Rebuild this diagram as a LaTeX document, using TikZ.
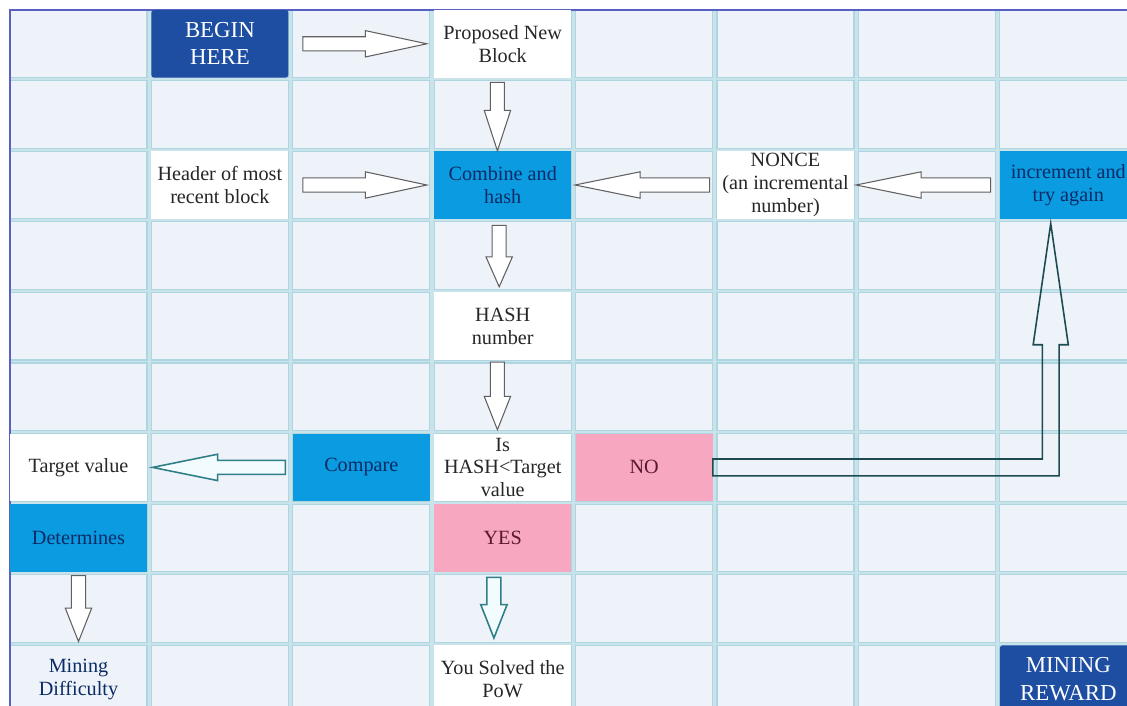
\documentclass[tikz,border=0pt]{standalone}
\usepackage{fontspec}
\setmainfont{Liberation Serif}
\newfontfamily\timesfont{Liberation Serif}
\usetikzlibrary{calc}

\definecolor{gridbg}{HTML}{C9E3EA}
\definecolor{cellfill}{HTML}{EEF2F9}
\definecolor{cellline}{HTML}{AFD6E0}
\definecolor{stepblue}{HTML}{0A9BE0}
\definecolor{darkblue}{HTML}{1E4EA2}
\definecolor{navy}{HTML}{0B2B66}
\definecolor{pinkcell}{HTML}{F8A7C0}
\definecolor{maroon}{HTML}{5A1830}
\definecolor{framecol}{HTML}{5960C4}
\definecolor{tealline}{HTML}{2F7F87}

\tikzset{
  cellbox/.style={fill=cellfill, draw=cellline, line width=0.7pt},
  cell/.style={minimum width=2.74cm, minimum height=1.352cm, inner sep=0pt, align=center,
    font=\timesfont\fontsize{11.5}{13}\selectfont, text=black!85},
  plain/.style={cell, fill=white},
  action/.style={cell, fill=stepblue, text=navy},
  endpoint/.style={cell, fill=darkblue, text=white, rounded corners=1.5pt,
    font=\timesfont\fontsize{13}{15.5}\selectfont},
  answer/.style={cell, fill=pinkcell, text=maroon},
  hollow/.style={draw=gray!75!black, fill=white, line width=0.6pt, line join=miter},
  tealarrow/.style={hollow, draw=tealline, fill=cyan!5, line width=0.9pt},
  loopline/.style={draw=tealline!60!black, line width=0.9pt, line join=miter},
}

% hollow block arrows: [style]{from}{to}{head length}
\newcommand{\harrow}[4][hollow]{%
  \draw[#1] let \p1=(#2), \p2=(#3), \n1={(\x2>\x1)*2-1}, \n2={\x2-(\n1)*#4} in
    (\x1,\y1+4pt) -- (\n2,\y1+4pt) -- (\n2,\y1+7.5pt) -- (\x2,\y1)
    -- (\n2,\y1-7.5pt) -- (\n2,\y1-4pt) -- (\x1,\y1-4pt) -- cycle;}
\newcommand{\varrow}[4][hollow]{%
  \draw[#1] let \p1=(#2), \p2=(#3), \n1={(\y2>\y1)*2-1}, \n2={\y2-(\n1)*#4} in
    (\x1+4pt,\y1) -- (\x1+4pt,\n2) -- (\x1+7.5pt,\n2) -- (\x1,\y2)
    -- (\x1-7.5pt,\n2) -- (\x1-4pt,\n2) -- (\x1-4pt,\y1) -- cycle;}

\begin{document}
\begin{tikzpicture}[x=0.02cm, y=-0.02cm]

\useasboundingbox (0,0) rectangle (1127,706);

% Grid
\fill[gridbg] (10,10) rectangle (1127,706);
\foreach \r in {0,...,9}
  \foreach \c in {0,...,7}
    \draw[cellbox] ({10+\c*141.4},{10+\r*70.6}) rectangle +(137,67.6);

% Frame
\draw[framecol, line width=1.2pt] (10,706) -- (10,10) -- (1127,10);

% Boxes
\node[endpoint] (begin) at (219.9,43.8) {BEGIN\\HERE};
\node[plain] (proposed) at (502.7,43.8) {Proposed New\\Block};
\node[plain] (header) at (219.9,185) {Header of most\\recent block};
\node[action] (combine) at (502.7,185) {Combine and\\hash};
\node[plain] (nonce) at (785.5,185) {NONCE\\(an incremental\\number)};
\node[action] (increment) at (1068.3,185) {increment and\\try again};
\node[plain] (hash) at (502.7,326.2) {HASH\\number};
\node[plain] (target) at (78.5,467.4) {Target value};
\node[action] (compare) at (361.3,467.4) {Compare};
\node[plain] (test) at (502.7,467.4) {Is\\HASH<Target\\value};
\node[answer] (no) at (644.1,467.4) {NO};
\node[action] (determines) at (78.5,538) {Determines};
\node[answer] (yes) at (502.7,538) {YES};
\node[cell, text=navy] (difficulty) at (78.5,679.2) {Mining\\Difficulty};
\node[plain] (solved) at (502.7,679.2) {You Solved the\\PoW};
\node[endpoint] (reward) at (1068.3,679.2) {MINING\\REWARD};

% Arrows
\harrow{[xshift=8pt]begin.east}{[xshift=-4pt]proposed.west}{35pt}
\harrow{[xshift=8pt]header.east}{[xshift=-4pt]combine.west}{35pt}
\harrow{[xshift=-4pt]nonce.west}{[xshift=2pt]combine.east}{37pt}
\harrow{[xshift=-5pt]increment.west}{[xshift=1pt]nonce.east}{37pt}
\varrow{[xshift=-3pt,yshift=-2.5pt]proposed.south}{combine.north}{23pt}
\varrow{[xshift=-2pt,yshift=-3.5pt]combine.south}{[yshift=3pt]hash.north}{17pt}
\varrow{[xshift=-3pt,yshift=-1pt]hash.south}{[yshift=2pt]test.north}{19pt}
\harrow[tealarrow]{[xshift=-4pt]compare.west}{[xshift=3pt]target.east}{37pt}
\varrow{[yshift=-2pt]determines.south}{[yshift=2pt]difficulty.north}{19pt}
\varrow[tealarrow]{[xshift=-5pt,yshift=-3pt]yes.south}{[yshift=4pt]solved.north}{19pt}

% NO loops back up
\draw[loopline] let \p1=(no.east), \p2=([xshift=-10pt,yshift=-2.5pt]increment.south) in
  (\x1,\y1+4.8pt) -- (\x2-4.8pt,\y1+4.8pt) -- (\x2-4.8pt,\y2-69pt) -- (\x2-10pt,\y2-69pt)
  -- (\x2,\y2) -- (\x2+10pt,\y2-69pt) -- (\x2+4.8pt,\y2-69pt) -- (\x2+4.8pt,\y1-4.8pt)
  -- (\x1,\y1-4.8pt) -- cycle;

\end{tikzpicture}
\end{document}
